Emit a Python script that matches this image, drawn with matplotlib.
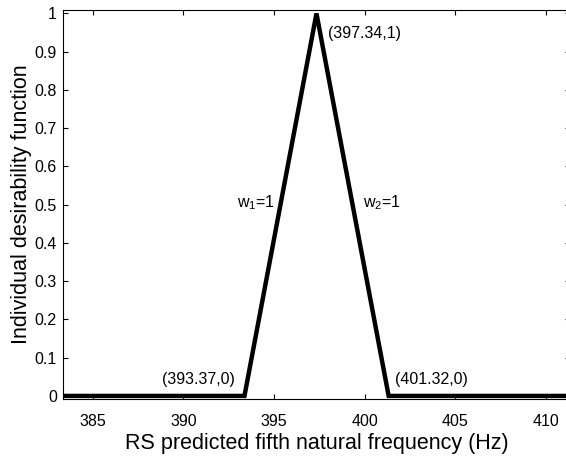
import matplotlib.pyplot as plt

plt.rcParams['font.family'] = ['Liberation Sans', 'DejaVu Sans']

# desirability function breakpoints
freq = [383.37, 393.37, 397.34, 401.32, 411.32]
desir = [0, 0, 1, 0, 0]
xticks = [385, 390, 395, 400, 405, 410]
yticks = [0, 0.1, 0.2, 0.3, 0.4, 0.5, 0.6, 0.7, 0.8, 0.9, 1]
ytick_labels = ['0', '0.1', '0.2', '0.3', '0.4', '0.5', '0.6', '0.7', '0.8', '0.9', '1']

fig = plt.figure(figsize=(5.66, 4.61), dpi=100)
ax = fig.add_axes([0.1115, 0.1345, 0.8956, 0.8438])

ax.plot(freq, desir, color='black', linewidth=3.2, solid_joinstyle='miter')

ax.set_xlim(383.37, 411.32)
ax.set_ylim(-0.008, 1.009)
ax.set_xticks(xticks)
ax.set_yticks(yticks)
ax.set_yticklabels(ytick_labels)
ax.tick_params(direction='in', length=3.5, width=0.8, labelsize=11.5, top=True, right=True)
ax.tick_params(axis='x', pad=11)
ax.tick_params(axis='y', pad=4.5)
for s in ax.spines.values():
    s.set_linewidth(0.8)

ax.text(397.97, 0.937, '(397.34,1)', fontsize=11.5, va='baseline')
ax.text(392.96, 0.492, r'$\mathregular{w_1}$=1', fontsize=11.5, va='baseline')
ax.text(399.9, 0.492, r'$\mathregular{w_2}$=1', fontsize=11.5, va='baseline')
ax.text(388.83, 0.031, '(393.37,0)', fontsize=11.5, va='baseline')
ax.text(401.67, 0.031, '(401.32,0)', fontsize=11.5, va='baseline')

ax.set_xlabel('RS predicted fifth natural frequency (Hz)', fontsize=15.5, labelpad=3)
ax.set_ylabel('Individual desirability function', fontsize=15.5, labelpad=1.5)

plt.savefig('out.png', dpi=100)
